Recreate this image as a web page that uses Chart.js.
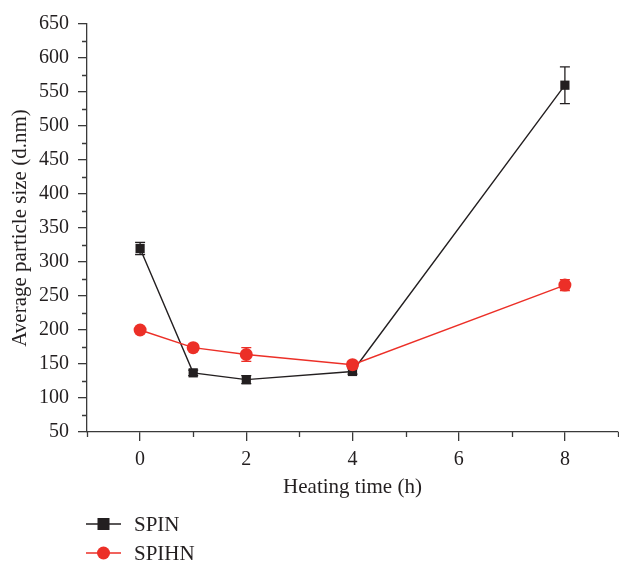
<!DOCTYPE html>
<html>
<head>
<meta charset="utf-8">
<script src="https://cdn.jsdelivr.net/npm/chart.js@4/dist/chart.umd.min.js"></script>
<style>
  html, body { margin: 0; padding: 0; background: #fff; overflow: hidden; }
  #wrap { width: 619px; height: 562px; position: relative; }
</style>
</head>
<body>
<div id="wrap"><canvas id="c"></canvas></div>
<script>
// Heating time (h) and average particle size (d.nm) with standard deviations
const heatingTime = [0, 1, 2, 4, 8];
const spinSize    = [320, 137, 127, 139, 560];
const spinErr     = [9, 4, 6, 4, 27];
const spihnSize   = [200, 174, 164, 149, 266];
const spihnErr    = [3, 4, 10, 4, 8];
const seriesNames = ['SPIN', 'SPIHN'];
const xTickLabels = [0, 2, 4, 6, 8];

const BLACK = '#231f20';
const RED = '#ec2f27';
const AXIS = '#3a3a3a';
const TEXT = '#231f20';
const FONT = '"Liberation Serif", "DejaVu Serif", serif';

const toPoints = (ys) => heatingTime.map((x, i) => ({ x: x, y: ys[i] }));

// Vertical error bars with caps, placed through the chart's own scales
const errorBars = {
  id: 'errorBars',
  beforeDatasetsDraw(chart) {
    const { ctx, scales: { x, y } } = chart;
    chart.data.datasets.forEach((ds) => {
      if (!ds.errors) return;
      ctx.save();
      ctx.strokeStyle = ds.borderColor;
      ctx.lineWidth = 1.3;
      ds.data.forEach((p, i) => {
        const e = ds.errors[i];
        const px = x.getPixelForValue(p.x);
        const top = y.getPixelForValue(p.y + e);
        const bot = y.getPixelForValue(p.y - e);
        ctx.beginPath();
        ctx.moveTo(px, top); ctx.lineTo(px, bot);
        ctx.moveTo(px - 5, top); ctx.lineTo(px + 5, top);
        ctx.moveTo(px - 5, bot); ctx.lineTo(px + 5, bot);
        ctx.stroke();
      });
      ctx.restore();
    });
  }
};

// Short outward minor ticks between the major ones
const minorTicks = {
  id: 'minorTicks',
  afterDraw(chart) {
    const { ctx, chartArea: a, scales: { x, y } } = chart;
    ctx.save();
    ctx.strokeStyle = AXIS;
    ctx.lineWidth = 1.3;
    ctx.beginPath();
    for (let v = x.min; v <= x.max; v += 1) {
      if (v % 2 === 0) continue;
      const px = Math.round(x.getPixelForValue(v)) + 0.5;
      ctx.moveTo(px, a.bottom); ctx.lineTo(px, a.bottom + 5);
    }
    for (let v = y.min + 25; v < y.max; v += 50) {
      const py = Math.round(y.getPixelForValue(v)) + 0.5;
      ctx.moveTo(a.left, py); ctx.lineTo(a.left - 5, py);
    }
    ctx.stroke();
    ctx.restore();
  }
};

// Legend below the plot: line sample with marker, then the series name
const sampleLegend = {
  id: 'sampleLegend',
  afterDraw(chart) {
    const { ctx } = chart;
    const rows = [524, 553];
    chart.data.datasets.forEach((ds, i) => {
      const cy = rows[i];
      ctx.save();
      ctx.strokeStyle = ds.borderColor;
      ctx.fillStyle = ds.backgroundColor;
      ctx.lineWidth = 1.3;
      ctx.beginPath();
      ctx.moveTo(86, cy); ctx.lineTo(121, cy);
      ctx.stroke();
      if (ds.pointStyle === 'rect') {
        ctx.fillRect(103.5 - 6, cy - 6, 12, 12);
      } else {
        ctx.beginPath();
        ctx.arc(103.5, cy, 6.5, 0, Math.PI * 2);
        ctx.fill();
      }
      ctx.fillStyle = TEXT;
      ctx.font = '21px ' + FONT;
      ctx.textBaseline = 'middle';
      ctx.textAlign = 'left';
      ctx.fillText(ds.label, 134, cy + 1);
      ctx.restore();
    });
  }
};

const majorGrid = {
  display: true,
  drawOnChartArea: false,
  drawTicks: true,
  tickLength: 9,
  color: AXIS,
  lineWidth: 1.3
};

new Chart(document.getElementById('c'), {
  type: 'scatter',
  data: {
    datasets: [
      {
        label: seriesNames[0],
        data: toPoints(spinSize),
        errors: spinErr,
        showLine: true,
        borderColor: BLACK,
        backgroundColor: BLACK,
        borderWidth: 1.4,
        pointStyle: 'rect',
        pointRadius: 6.5,
        pointBorderWidth: 0,
        order: 2
      },
      {
        label: seriesNames[1],
        data: toPoints(spihnSize),
        errors: spihnErr,
        showLine: true,
        borderColor: RED,
        backgroundColor: RED,
        borderWidth: 1.4,
        pointStyle: 'circle',
        pointRadius: 6.5,
        pointBorderWidth: 0,
        order: 1
      }
    ]
  },
  options: {
    responsive: true,
    maintainAspectRatio: false,
    animation: false,
    layout: { autoPadding: false, padding: { top: 24, right: 1, bottom: 60, left: 0 } },
    plugins: {
      legend: { display: false },
      tooltip: { enabled: false }
    },
    scales: {
      x: {
        type: 'linear',
        min: -1,
        max: 9,
        afterBuildTicks(scale) {
          scale.ticks = xTickLabels.map((v) => ({ value: v }));
        },
        afterFit(scale) { scale.height = 70; },
        grid: majorGrid,
        border: { display: true, color: AXIS, width: 1.3 },
        ticks: {
          color: TEXT,
          font: { family: FONT, size: 20 },
          padding: 7,
          maxRotation: 0
        },
        title: {
          display: true,
          text: 'Heating time (h)',
          color: TEXT,
          font: { family: FONT, size: 21 },
          padding: { top: 0, bottom: 2 }
        }
      },
      y: {
        type: 'linear',
        min: 50,
        max: 650,
        afterFit(scale) { scale.width = 87; },
        grid: majorGrid,
        border: { display: true, color: AXIS, width: 1.3 },
        ticks: {
          stepSize: 50,
          color: TEXT,
          font: { family: FONT, size: 20 },
          padding: 9
        },
        title: {
          display: true,
          text: 'Average particle size (d.nm)',
          color: TEXT,
          font: { family: FONT, size: 21 },
          padding: { top: 8, bottom: 0 }
        }
      }
    }
  },
  plugins: [errorBars, minorTicks, sampleLegend]
});
</script>
</body>
</html>
